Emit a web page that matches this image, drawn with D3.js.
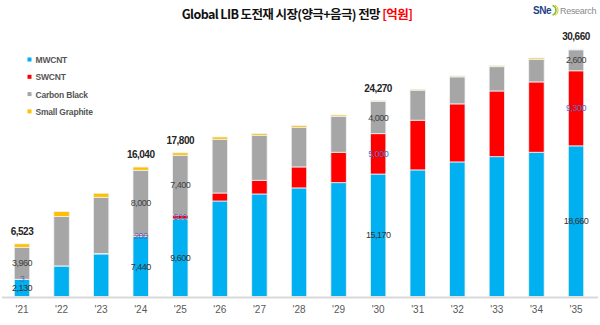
<!DOCTYPE html>
<html>
<head>
<meta charset="utf-8">
<script src="https://cdn.jsdelivr.net/npm/d3@7"></script>
<style>
  body { margin: 0; background: #fff; }
  svg { display: block; }
</style>
</head>
<body>
<svg id="chart" width="600" height="325"></svg>
<script>
// Series values (억원), one entry per year
var years = ["'21", "'22", "'23", "'24", "'25", "'26", "'27", "'28", "'29", "'30", "'31", "'32", "'33", "'34", "'35"];
var mwcnt = [2130, 3780, 5270, 7440, 9600, 11830, 12700, 13450, 14100, 15170, 15680, 16670, 17320, 17870, 18660];
var swcnt = [3, 10, 50, 200, 500, 990, 1700, 2600, 3770, 5000, 6160, 7190, 8140, 8710, 9300];
var carbonBlack = [3960, 6110, 6970, 8000, 7400, 6660, 5580, 4920, 4460, 4000, 3720, 3350, 3010, 2810, 2600];
var smallGraphite = [430, 620, 500, 400, 300, 280, 200, 200, 160, 100, 120, 120, 120, 160, 100];

// years that carry value labels
var labeledYears = ["'21", "'24", "'25", "'30", "'35"];

var seriesNames = ["MWCNT", "SWCNT", "Carbon Black", "Small Graphite"];
var colors = ["#00b0f0", "#ff0000", "#a6a6a6", "#ffc000"];

var svg = d3.select("#chart");
var baseY = 296.5;

var table = years.map(function(yr, i) {
  return { year: yr, "MWCNT": mwcnt[i], "SWCNT": swcnt[i], "Carbon Black": carbonBlack[i], "Small Graphite": smallGraphite[i] };
});
table.forEach(function(d) {
  d.total = seriesNames.reduce(function(s, k) { return s + d[k]; }, 0);
});

var stacked = d3.stack().keys(seriesNames)(table);

var xscale = d3.scaleBand()
  .domain(years)
  .range([2.2, 595.8])
  .paddingInner(0.61)
  .paddingOuter(0.305);

var yscale = d3.scaleLinear()
  .domain([0, d3.max(table, function(d) { return d.total; })])
  .range([baseY, 49]);

// Title
var title = svg.append("text")
  .attr("x", 297)
  .attr("y", 19)
  .attr("text-anchor", "middle")
  .style("font-family", "'Noto Sans CJK KR', sans-serif")
  .style("font-size", "12.5px")
  .style("font-weight", "bold")
  .style("letter-spacing", "-0.6px")
  .style("fill", "#111");
title.append("tspan").text("Global LIB 도전재 시장(양극+음극) 전망 ");
title.append("tspan").style("fill", "#ff0000").text("[억원]");

// Logo
var logo = svg.append("g").attr("transform", "translate(533,14)");
logo.append("text")
  .attr("x", 0).attr("y", 0)
  .style("font-family", "'Liberation Sans', Arial, sans-serif")
  .style("font-size", "10px")
  .style("font-weight", "bold")
  .style("letter-spacing", "-0.4px")
  .style("fill", "#1f3f87")
  .text("SNe");
logo.append("path")
  .attr("d", "M19.5,-8.5 A5,5 0 0 1 19.5,1")
  .attr("fill", "none")
  .attr("stroke", "#7cc142")
  .attr("stroke-width", 1.6);
logo.append("path")
  .attr("d", "M22,-9 A6,6 0 0 1 22,1.5")
  .attr("fill", "none")
  .attr("stroke", "#f2c200")
  .attr("stroke-width", 1);
logo.append("text")
  .attr("x", 27).attr("y", 0)
  .style("font-family", "'Liberation Sans', Arial, sans-serif")
  .style("font-size", "9px")
  .style("letter-spacing", "-0.3px")
  .style("fill", "#8a8a8a")
  .text("Research");

// Legend
var legend = svg.append("g");
seriesNames.forEach(function(name, i) {
  var ly = 60 + i * 17.3;
  legend.append("rect")
    .attr("x", 27.5).attr("y", ly - 2.5)
    .attr("width", 4).attr("height", 4)
    .attr("fill", colors[i]);
  legend.append("text")
    .attr("x", 35.5).attr("y", ly + 3)
    .style("font-family", "'Liberation Sans', Arial, sans-serif")
    .style("font-size", "8.5px")
    .style("font-weight", "bold")
    .style("letter-spacing", "-0.2px")
    .style("fill", "#555")
    .text(name);
});

// Stacked bars
stacked.forEach(function(layer, si) {
  svg.append("g")
    .selectAll("rect")
    .data(layer)
    .enter().append("rect")
    .attr("x", function(d) { return xscale(d.data.year); })
    .attr("y", function(d) { return yscale(d[1]); })
    .attr("width", xscale.bandwidth())
    .attr("height", function(d) { return yscale(d[0]) - yscale(d[1]); })
    .attr("fill", colors[si])
    .attr("stroke", "#eef3f6")
    .attr("stroke-width", 0.8);
});

// Axis line and year labels
svg.append("line")
  .attr("x1", 2).attr("x2", 598)
  .attr("y1", baseY + 1).attr("y2", baseY + 1)
  .attr("stroke", "#d9d9d9")
  .attr("stroke-width", 2);

var xAxis = svg.append("g")
  .attr("transform", "translate(0," + (baseY + 1) + ")")
  .call(d3.axisBottom(xscale).tickSize(0).tickPadding(8));
xAxis.select(".domain").remove();
xAxis.selectAll("text")
  .style("font-family", "'Liberation Sans', Arial, sans-serif")
  .style("font-size", "10px")
  .style("fill", "#595959");

// Segment value labels
var labelColors = ["#333", "#4a6fc4", "#404040", null];
stacked.forEach(function(layer, si) {
  if (!labelColors[si]) return;
  svg.append("g")
    .selectAll("text")
    .data(layer.filter(function(d) { return labeledYears.indexOf(d.data.year) >= 0; }))
    .enter().append("text")
    .attr("x", function(d) { return xscale(d.data.year) + xscale.bandwidth() / 2; })
    .attr("y", function(d) { return (yscale(d[0]) + yscale(d[1])) / 2; })
    .attr("dy", "0.35em")
    .attr("text-anchor", "middle")
    .style("font-family", "'Liberation Sans', Arial, sans-serif")
    .style("font-size", "9px")
    .style("letter-spacing", "-0.5px")
    .style("fill", labelColors[si])
    .text(function(d) { return d3.format(",")(d.data[seriesNames[si]]); });
});

// Totals above labelled bars
svg.append("g")
  .selectAll("text")
  .data(table.filter(function(d) { return labeledYears.indexOf(d.year) >= 0; }))
  .enter().append("text")
  .attr("x", function(d) { return xscale(d.year) + xscale.bandwidth() / 2; })
  .attr("y", function(d) { return yscale(d.total) - 9; })
  .attr("text-anchor", "middle")
  .style("font-family", "'Liberation Sans', Arial, sans-serif")
  .style("font-size", "10px")
  .style("font-weight", "bold")
  .style("letter-spacing", "-0.5px")
  .style("fill", "#262626")
  .text(function(d) { return d3.format(",")(d.total); });
</script>
</body>
</html>
